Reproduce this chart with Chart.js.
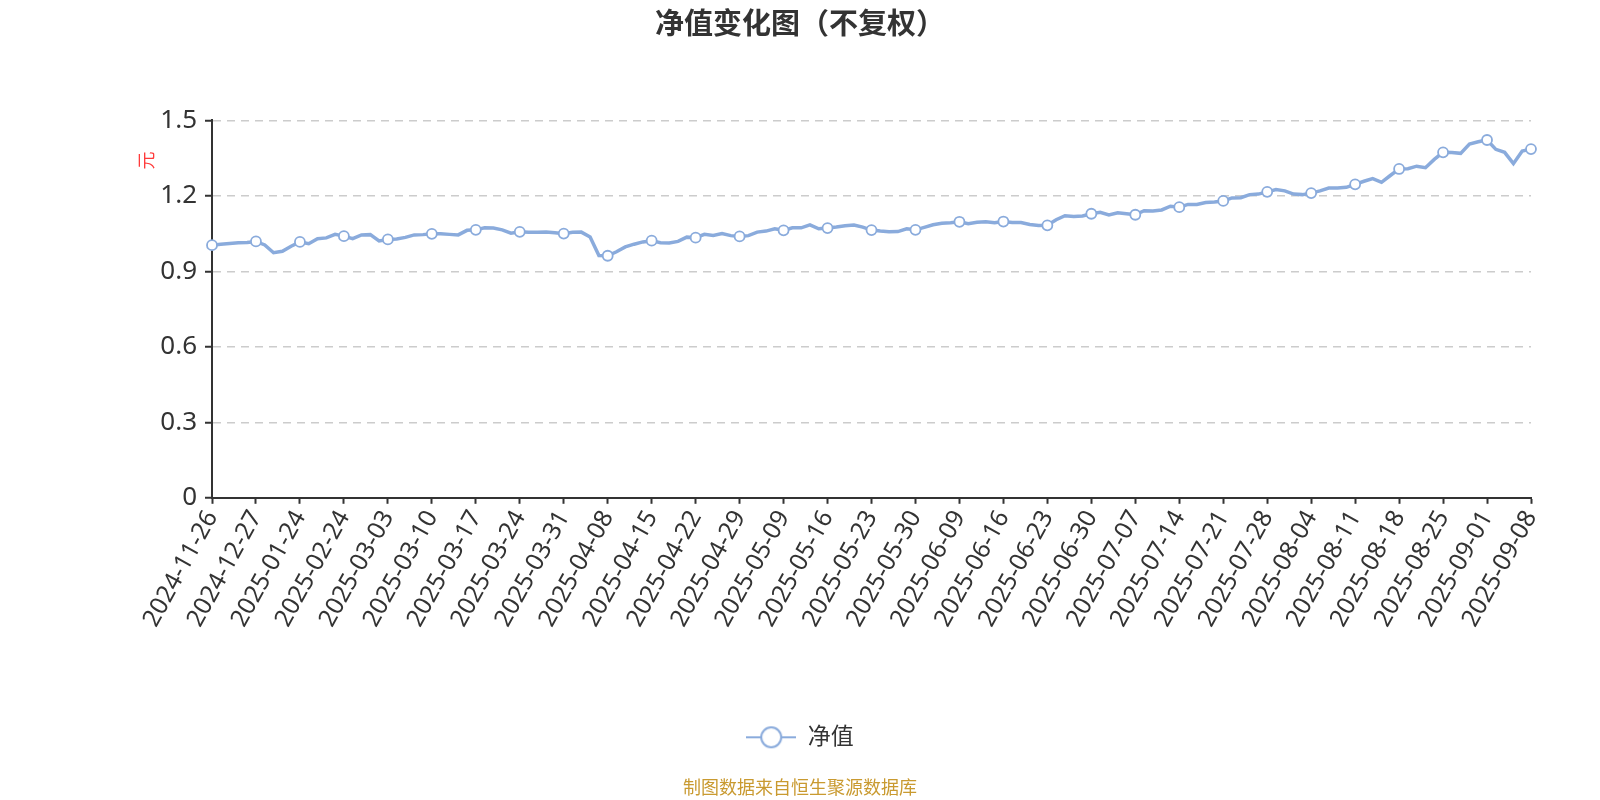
<!DOCTYPE html>
<html>
<head>
<meta charset="utf-8">
<title>净值变化图（不复权）</title>
<script src="https://cdn.jsdelivr.net/npm/chart.js@4.4.1/dist/chart.umd.min.js"></script>
<style>
    html, body { margin: 0; padding: 0; background: #fff; }
    #wrap { width: 1600px; height: 800px; position: relative; }
</style>
</head>
<body>
<div id="wrap"><canvas id="navChart"></canvas></div>
<script>
// tick labels shown on the x axis (one every LABEL_STEP points)
const tickLabels = [
    "2024-11-26", "2024-12-27", "2025-01-24", "2025-02-24", "2025-03-03",
    "2025-03-10", "2025-03-17", "2025-03-24", "2025-03-31", "2025-04-08",
    "2025-04-15", "2025-04-22", "2025-04-29", "2025-05-09", "2025-05-16",
    "2025-05-23", "2025-05-30", "2025-06-09", "2025-06-16", "2025-06-23",
    "2025-06-30", "2025-07-07", "2025-07-14", "2025-07-21", "2025-07-28",
    "2025-08-04", "2025-08-11", "2025-08-18", "2025-08-25", "2025-09-01",
    "2025-09-08"
];
const LABEL_STEP = 5;

// unit NAV (元)
const navValues = [
    1.004, 1.008, 1.011, 1.014, 1.015, 1.019, 1.005, 0.974, 0.980, 1.000,
    1.017, 1.010, 1.030, 1.033, 1.047, 1.040, 1.030, 1.045, 1.046, 1.021,
    1.027, 1.029, 1.035, 1.045, 1.046, 1.049, 1.049, 1.047, 1.045, 1.063,
    1.065, 1.073, 1.072, 1.065, 1.052, 1.057, 1.055, 1.055, 1.056, 1.053,
    1.050, 1.055, 1.056, 1.037, 0.963, 0.962, 0.978, 0.997, 1.008, 1.017,
    1.022, 1.014, 1.013, 1.019, 1.036, 1.034, 1.047, 1.043, 1.050, 1.042,
    1.039, 1.042, 1.056, 1.060, 1.069, 1.063, 1.073, 1.073, 1.085, 1.069,
    1.072, 1.076, 1.081, 1.084, 1.076, 1.064, 1.060, 1.057, 1.058, 1.069,
    1.065, 1.075, 1.085, 1.091, 1.093, 1.097, 1.089, 1.095, 1.097, 1.093,
    1.098, 1.094, 1.094, 1.086, 1.082, 1.083, 1.105, 1.121, 1.118, 1.120,
    1.129, 1.135, 1.124, 1.133, 1.129, 1.125, 1.141, 1.140, 1.144, 1.159,
    1.155, 1.166, 1.166, 1.174, 1.176, 1.180, 1.192, 1.193, 1.205, 1.207,
    1.216, 1.225, 1.220, 1.207, 1.205, 1.211, 1.220, 1.231, 1.231, 1.234,
    1.246, 1.258, 1.269, 1.254, 1.281, 1.307, 1.308, 1.318, 1.312, 1.345,
    1.373, 1.372, 1.369, 1.406, 1.415, 1.422, 1.385, 1.373, 1.328, 1.378,
    1.386
];

// y axis range
const yMin = 0;
const yMax = 1.5;
const yStep = 0.3;

// category for every point; only every LABEL_STEP-th one carries a date
const categories = navValues.map((v, i) => i % LABEL_STEP === 0 ? tickLabels[i / LABEL_STEP] : "");

const LINE_COLOR = "#8aabdc";
const FONT = '"Noto Sans", "Noto Sans CJK SC", sans-serif';

// legend icon: short line with a hollow circle
function makeLegendIcon() {
    const c = document.createElement("canvas");
    c.width = 50;
    c.height = 24;
    const g = c.getContext("2d");
    g.strokeStyle = LINE_COLOR;
    g.lineWidth = 2;
    g.beginPath();
    g.moveTo(0, 12);
    g.lineTo(50, 12);
    g.stroke();
    g.beginPath();
    g.arc(25, 12, 10, 0, Math.PI * 2);
    g.fillStyle = "#fff";
    g.fill();
    g.stroke();
    return c;
}

// y axis name "元", drawn near the top of the axis
const axisNamePlugin = {
    id: "axisName",
    afterDraw(chart) {
        const ctx = chart.ctx;
        const area = chart.chartArea;
        ctx.save();
        ctx.translate(area.left - 64, area.top + 40);
        ctx.rotate(-Math.PI / 2);
        ctx.fillStyle = "#ff3b3b";
        ctx.font = "18px " + FONT;
        ctx.textAlign = "center";
        ctx.textBaseline = "middle";
        ctx.fillText("元", 0, 0);
        ctx.restore();
    }
};

const ctx = document.getElementById("navChart").getContext("2d");

new Chart(ctx, {
    type: "line",
    data: {
        labels: categories,
        datasets: [
            {
                label: "净值",
                data: navValues,
                borderColor: LINE_COLOR,
                backgroundColor: "#fff",
                borderWidth: 3.5,
                tension: 0,
                fill: false,
                clip: false,
                pointRadius: c => c.dataIndex % LABEL_STEP === 0 ? 5 : 0,
                pointBorderWidth: 1.8,
                pointBorderColor: LINE_COLOR,
                pointBackgroundColor: "#fff",
            },
        ],
    },
    options: {
        responsive: true,
        maintainAspectRatio: false,
        animation: false,
        events: [],
        layout: {
            padding: 0,
        },
        plugins: {
            title: {
                display: true,
                text: "净值变化图（不复权）",
                color: "#333",
                font: { family: FONT, size: 29, weight: "bold" },
                padding: { top: 8, bottom: 77.6 },
            },
            legend: {
                display: true,
                position: "bottom",
                labels: {
                    usePointStyle: true,
                    pointStyle: makeLegendIcon(),
                    pointStyleWidth: 50,
                    color: "#333",
                    font: { family: FONT, size: 23 },
                    padding: 10,
                },
            },
            subtitle: {
                display: true,
                position: "bottom",
                text: "制图数据来自恒生聚源数据库",
                color: "#c99a30",
                font: { family: FONT, size: 18 },
                padding: { top: 19.6, bottom: 0 },
            },
            tooltip: { enabled: false },
        },
        scales: {
            x: {
                type: "category",
                offset: false,
                afterBuildTicks: axis => {
                    axis.ticks = axis.ticks.filter(t => t.value % LABEL_STEP === 0);
                },
                afterFit: s => { s.height = 218; },
                ticks: {
                    autoSkip: false,
                    minRotation: 61,
                    maxRotation: 61,
                    color: "#333",
                    font: { family: FONT, size: 24.5 },
                    padding: 2,
                },
                grid: {
                    display: true,
                    drawOnChartArea: false,
                    drawTicks: true,
                    tickLength: 6,
                    tickColor: "#333",
                    tickWidth: 2,
                },
                border: { color: "#333", width: 2 },
            },
            y: {
                min: yMin,
                max: yMax,
                afterFit: s => { s.width = 212; },
                ticks: {
                    stepSize: yStep,
                    color: "#333",
                    font: { family: FONT, size: 26 },
                    padding: 8,
                    callback: v => v === 0 ? "0" : v.toFixed(1),
                },
                grid: {
                    color: c => c.tick && c.tick.value === 0 ? "rgba(0,0,0,0)" : "#cccccc",
                    lineWidth: 1.5,
                    drawTicks: true,
                    tickLength: 7,
                    tickColor: "#333",
                    tickWidth: 2,
                },
                border: { color: "#333", width: 2, dash: [8, 6] },
            },
            // empty strip on the right so the plot ends where the reference does
            rightGap: {
                type: "linear",
                position: "right",
                display: true,
                afterFit: s => { s.width = 69; },
                ticks: { display: false },
                grid: { display: false },
                border: { display: false },
            },
        },
    },
    plugins: [axisNamePlugin],
});
</script>
</body>
</html>
